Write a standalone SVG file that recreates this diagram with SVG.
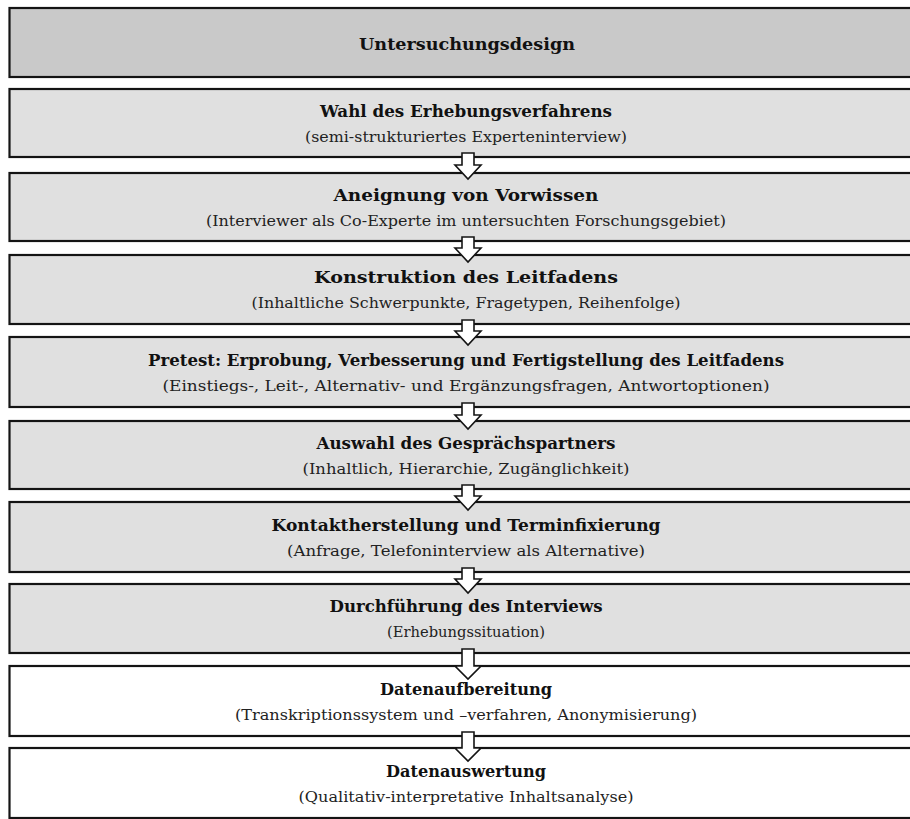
<svg xmlns="http://www.w3.org/2000/svg" width="910" height="819" viewBox="0 0 910 819">
  <style>
    .box { stroke: #141414; stroke-width: 2.2; }
    .head { fill: #c9c9c9; }
    .grey { fill: #e0e0e0; }
    .white { fill: #ffffff; }
    .t { font-family: "DejaVu Serif", "Liberation Serif", serif; font-size: 16px; font-weight: bold; fill: #111; text-anchor: middle; }
    .s { font-family: "DejaVu Serif", "Liberation Serif", serif; font-size: 15px; fill: #222; text-anchor: middle; }
    .arrow { fill: #ffffff; stroke: #141414; stroke-width: 1.6; stroke-linejoin: miter; }
  </style>

  <!-- header -->
  <g id="header">
    <rect class="box head" x="9.5" y="8" width="910" height="69"/>
    <text class="t" x="467" y="50" textLength="216" lengthAdjust="spacingAndGlyphs">Untersuchungsdesign</text>
  </g>

  <g id="step1">
    <rect class="box grey" x="9.5" y="89" width="910" height="68"/>
    <text class="t" x="466" y="117" textLength="292" lengthAdjust="spacingAndGlyphs">Wahl des Erhebungsverfahrens</text>
    <text class="s" x="466" y="142" textLength="322" lengthAdjust="spacingAndGlyphs">(semi-strukturiertes Experteninterview)</text>
  </g>

  <g id="step2">
    <rect class="box grey" x="9.5" y="173" width="910" height="68"/>
    <text class="t" x="466" y="201" textLength="265" lengthAdjust="spacingAndGlyphs">Aneignung von Vorwissen</text>
    <text class="s" x="466" y="226" textLength="520" lengthAdjust="spacingAndGlyphs">(Interviewer als Co-Experte im untersuchten Forschungsgebiet)</text>
  </g>

  <g id="step3">
    <rect class="box grey" x="9.5" y="255" width="910" height="69"/>
    <text class="t" x="466" y="283" textLength="304" lengthAdjust="spacingAndGlyphs">Konstruktion des Leitfadens</text>
    <text class="s" x="466" y="308" textLength="429" lengthAdjust="spacingAndGlyphs">(Inhaltliche Schwerpunkte, Fragetypen, Reihenfolge)</text>
  </g>

  <g id="step4">
    <rect class="box grey" x="9.5" y="337" width="910" height="70"/>
    <text class="t" x="466" y="366" textLength="636" lengthAdjust="spacingAndGlyphs">Pretest: Erprobung, Verbesserung und Fertigstellung des Leitfadens</text>
    <text class="s" x="466" y="391" textLength="607" lengthAdjust="spacingAndGlyphs">(Einstiegs-, Leit-, Alternativ- und Ergänzungsfragen, Antwortoptionen)</text>
  </g>

  <g id="step5">
    <rect class="box grey" x="9.5" y="421" width="910" height="68"/>
    <text class="t" x="466" y="449" textLength="299" lengthAdjust="spacingAndGlyphs">Auswahl des Gesprächspartners</text>
    <text class="s" x="466" y="474" textLength="327" lengthAdjust="spacingAndGlyphs">(Inhaltlich, Hierarchie, Zugänglichkeit)</text>
  </g>

  <g id="step6">
    <rect class="box grey" x="9.5" y="502" width="910" height="70"/>
    <text class="t" x="466" y="531" textLength="389" lengthAdjust="spacingAndGlyphs">Kontaktherstellung und Terminfixierung</text>
    <text class="s" x="466" y="556" textLength="358" lengthAdjust="spacingAndGlyphs">(Anfrage, Telefoninterview als Alternative)</text>
  </g>

  <g id="step7">
    <rect class="box grey" x="9.5" y="584" width="910" height="69"/>
    <text class="t" x="466" y="612" textLength="273" lengthAdjust="spacingAndGlyphs">Durchführung des Interviews</text>
    <text class="s" x="466" y="637" textLength="158" lengthAdjust="spacingAndGlyphs">(Erhebungssituation)</text>
  </g>

  <g id="step8">
    <rect class="box white" x="9.5" y="666" width="910" height="70"/>
    <text class="t" x="466" y="695" textLength="172" lengthAdjust="spacingAndGlyphs">Datenaufbereitung</text>
    <text class="s" x="466" y="720" textLength="462" lengthAdjust="spacingAndGlyphs">(Transkriptionssystem und –verfahren, Anonymisierung)</text>
  </g>

  <g id="step9">
    <rect class="box white" x="9.5" y="748" width="910" height="70"/>
    <text class="t" x="466" y="777" textLength="160" lengthAdjust="spacingAndGlyphs">Datenauswertung</text>
    <text class="s" x="466" y="802" textLength="335" lengthAdjust="spacingAndGlyphs">(Qualitativ-interpretative Inhaltsanalyse)</text>
  </g>

  <!-- block arrows between consecutive steps -->
  <g id="connectors">
    <polygon class="arrow" points="462,153 474,153 474,165 481,165 468,179 455,165 462,165"/>
    <polygon class="arrow" points="462,237 474,237 474,248 481,248 468,262 455,248 462,248"/>
    <polygon class="arrow" points="462,320 474,320 474,331 481,331 468,345 455,331 462,331"/>
    <polygon class="arrow" points="462,403 474,403 474,415 481,415 468,429 455,415 462,415"/>
    <polygon class="arrow" points="462,485 474,485 474,496 481,496 468,510 455,496 462,496"/>
    <polygon class="arrow" points="462,568 474,568 474,579 481,579 468,593 455,579 462,579"/>
    <polygon class="arrow" points="462,649 474,649 474,666 481,666 468,679 455,666 462,666"/>
    <polygon class="arrow" points="462,732 474,732 474,748 481,748 468,761 455,748 462,748"/>
  </g>
</svg>
